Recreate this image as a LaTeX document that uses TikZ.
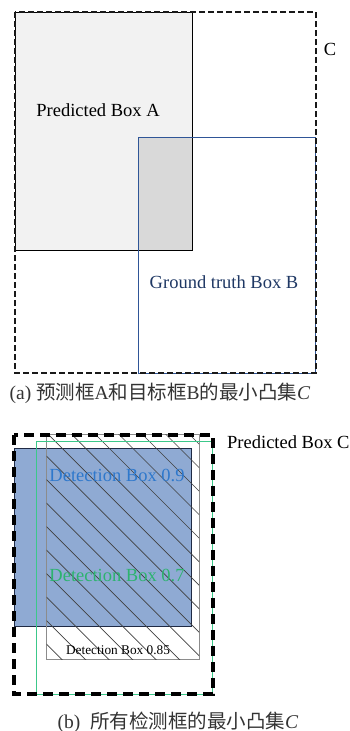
\documentclass[tikz,border=0pt]{standalone}
\usepackage{fontspec}
\setmainfont{Liberation Serif}
\newfontfamily\cjk{Noto Sans CJK SC}
\definecolor{boxAfill}{HTML}{F2F2F2}
\definecolor{interfill}{HTML}{D9D9D9}
\definecolor{gtblue}{HTML}{2F5597}
\definecolor{gttext}{HTML}{1F3864}
\definecolor{detblue}{HTML}{8FAAD3}
\definecolor{detborder}{HTML}{1F2A44}
\definecolor{txtblue}{HTML}{2E78CC}
\definecolor{txtgreen}{HTML}{2DB36F}
\definecolor{lgreen}{HTML}{3CC88A}
\definecolor{capgray}{HTML}{333333}
\tikzset{
  lbl/.style={inner sep=0pt, font=\fontsize{18.5}{20}\selectfont},
  captext/.style={inner sep=0pt, text=capgray, font=\fontsize{19.5}{22}\selectfont},
  cdash/.style={draw=black!90, line width=2.2pt, dash pattern=on 6pt off 3pt},
  cdashb/.style={draw=black, line width=3.6pt, dash pattern=on 10pt off 6pt},
}
\begin{document}
\begin{tikzpicture}[x=1pt,y=-1pt]
\useasboundingbox (0,0) rectangle (350,731);
% ---------- panel (a) ----------
\fill[boxAfill] (15,12) rectangle (192,250);
\fill[interfill] (138,137) rectangle (192,250);
\draw[black, line width=1pt] (15,12) rectangle (192,250);
\draw[gtblue, line width=0.9pt] (138,137) rectangle (315,373);
\draw[cdash] (15,12) rectangle (316,373);
\node[lbl] (pa) at (98,110) {Predicted Box A};
\node[lbl] (lc) at (330,49) {C};
\node[lbl, text=gttext] (gb) at (224,282) {Ground truth Box B};
\node[captext] (capa) at (160,393) {(a) {\cjk 预测框}A{\cjk 和目标框}B{\cjk 的最小凸集}\textit{C}};
% ---------- panel (b) ----------
\fill[detblue] (14,448) rectangle (191,626);
\draw[detborder, line width=1pt] (14,448) rectangle (191,626);
\draw[black!45, line width=1pt] (46.5,434) rectangle (199,659);
\begin{scope}
  \clip (46.5,434) rectangle (199,659);
  \foreach \k in {-10,...,7} {
    \draw[black!75, line width=0.7pt] ({48+23.5*\k},434) -- ({48+23.5*\k+260},694);
  }
\end{scope}
\draw[lgreen, line width=1pt] (36,441) rectangle (212,694);
\node[lbl, text=txtblue] (d9) at (117,475) {Detection Box 0.9};
\node[lbl, text=txtgreen] (d7) at (117,575) {Detection Box 0.7};
\node[inner sep=0pt, font=\fontsize{13.3}{15}\selectfont] (d85) at (118,650) {Detection Box 0.85};
\draw[cdashb] (14,435) rectangle (213,694);
\node[lbl, anchor=west] (pc) at (227,442) {Predicted Box C};
\node[captext] (capb) at (178,722) {(b)\ \ {\cjk 所有检测框的最小凸集}\textit{C}};
\end{tikzpicture}
\end{document}
